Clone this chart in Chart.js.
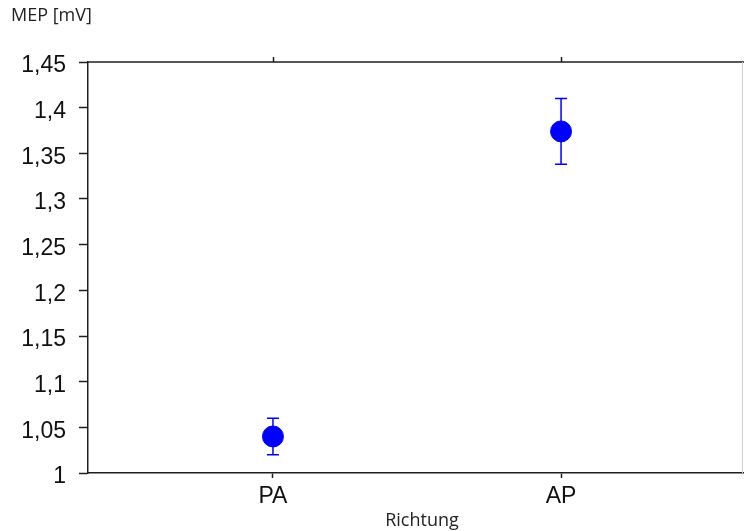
<!DOCTYPE html>
<html>
<head>
<meta charset="utf-8">
<script src="https://cdn.jsdelivr.net/npm/chart.js@4"></script>
<style>
  html, body { margin: 0; padding: 0; background: #fff; }
  #wrap { width: 744px; height: 531px; }
</style>
</head>
<body>
<div id="wrap"><canvas id="mep-chart"></canvas></div>
<script>
const categories = ['PA', 'AP'];
const catPos = [1, 2];
const means = [1.04, 1.374];
const errors = [0.02, 0.036];
const yMin = 1, yMax = 1.45;
const yLabel = 'MEP [mV]';
const xLabel = 'Richtung';

const ink = '#1e1e1e';
const blue = '#0000ff';

const isMajor = v => Math.round(v * 1000) % 50 === 0;

// error bars, minor ticks, top frame line + ticks, axis captions
const extras = {
  id: 'extras',
  afterDatasetsDraw(chart) {
    const c = chart.ctx, xs = chart.scales.x, ys = chart.scales.y;
    c.save();
    c.strokeStyle = blue;
    c.lineWidth = 1.5;
    means.forEach((m, i) => {
      const x = xs.getPixelForValue(catPos[i]);
      const top = ys.getPixelForValue(m + errors[i]);
      const bot = ys.getPixelForValue(m - errors[i]);
      c.beginPath();
      c.moveTo(x, top); c.lineTo(x, bot);
      c.moveTo(x - 6, top); c.lineTo(x + 6, top);
      c.moveTo(x - 6, bot); c.lineTo(x + 6, bot);
      c.stroke();
    });
    c.restore();
  },
  afterDraw(chart) {
    const c = chart.ctx, a = chart.chartArea, xs = chart.scales.x, ys = chart.scales.y;
    c.save();
    c.strokeStyle = ink;
    c.lineWidth = 1.5;
    // minor ticks
    ys.ticks.forEach(t => {
      if (isMajor(t.value)) return;
      const y = Math.round(ys.getPixelForValue(t.value)) + 0.5;
      c.beginPath(); c.moveTo(a.left - 5, y); c.lineTo(a.left, y); c.stroke();
    });
    // top line with upward ticks
    c.beginPath(); c.moveTo(a.left, a.top); c.lineTo(a.right, a.top); c.stroke();
    catPos.forEach(p => {
      const x = Math.round(xs.getPixelForValue(p)) + 0.5;
      c.beginPath(); c.moveTo(x, a.top); c.lineTo(x, a.top - 5); c.stroke();
    });
    // faint right border
    c.strokeStyle = '#cfcfcf';
    c.lineWidth = 1;
    c.beginPath(); c.moveTo(a.right - 1.5, a.top); c.lineTo(a.right - 1.5, a.bottom); c.stroke();
    // captions
    c.fillStyle = '#222';
    c.font = '18px "Open Sans"';
    c.textBaseline = 'middle';
    c.textAlign = 'left';
    c.fillText(yLabel, 11, 16);
    c.textAlign = 'center';
    c.textBaseline = 'alphabetic';
    c.fillText(xLabel, 422, 526);
    c.restore();
  }
};

new Chart(document.getElementById('mep-chart'), {
  type: 'scatter',
  data: {
    datasets: [{
      data: catPos.map((p, i) => ({ x: p, y: means[i] })),
      backgroundColor: blue,
      borderColor: blue,
      pointRadius: 10.5,
      pointHoverRadius: 10.5
    }]
  },
  options: {
    responsive: true,
    maintainAspectRatio: false,
    animation: false,
    layout: { autoPadding: false, padding: { top: 62, right: 0, left: 0, bottom: 0 } },
    plugins: { legend: { display: false }, tooltip: { enabled: false } },
    scales: {
      x: {
        type: 'linear',
        min: 0.358,
        max: 2.635,
        afterBuildTicks: s => { s.ticks = catPos.map(v => ({ value: v })); },
        afterFit: s => { s.height = 58; },
        border: { color: ink, width: 1.5 },
        grid: { drawOnChartArea: false, tickLength: 5, tickColor: ink, tickWidth: 1.5 },
        ticks: {
          padding: 5,
          color: '#111',
          font: { family: '"Liberation Sans", Arial', size: 23 },
          callback: v => categories[catPos.indexOf(v)]
        }
      },
      y: {
        min: yMin,
        max: yMax,
        afterFit: s => { s.width = 88; },
        border: { color: ink, width: 1.5 },
        grid: {
          drawOnChartArea: false,
          tickLength: 9,
          tickWidth: 1.5,
          tickColor: ctx => (ctx.tick && isMajor(ctx.tick.value)) ? ink : 'rgba(0,0,0,0)'
        },
        ticks: {
          stepSize: 0.025,
          padding: 13,
          labelOffset: 4,
          color: '#111',
          font: { family: '"Liberation Sans", Arial', size: 23 },
          callback: v => isMajor(v) ? String(Math.round(v * 100) / 100).replace('.', ',') : ''
        }
      }
    }
  },
  plugins: [extras]
});
</script>
</body>
</html>
